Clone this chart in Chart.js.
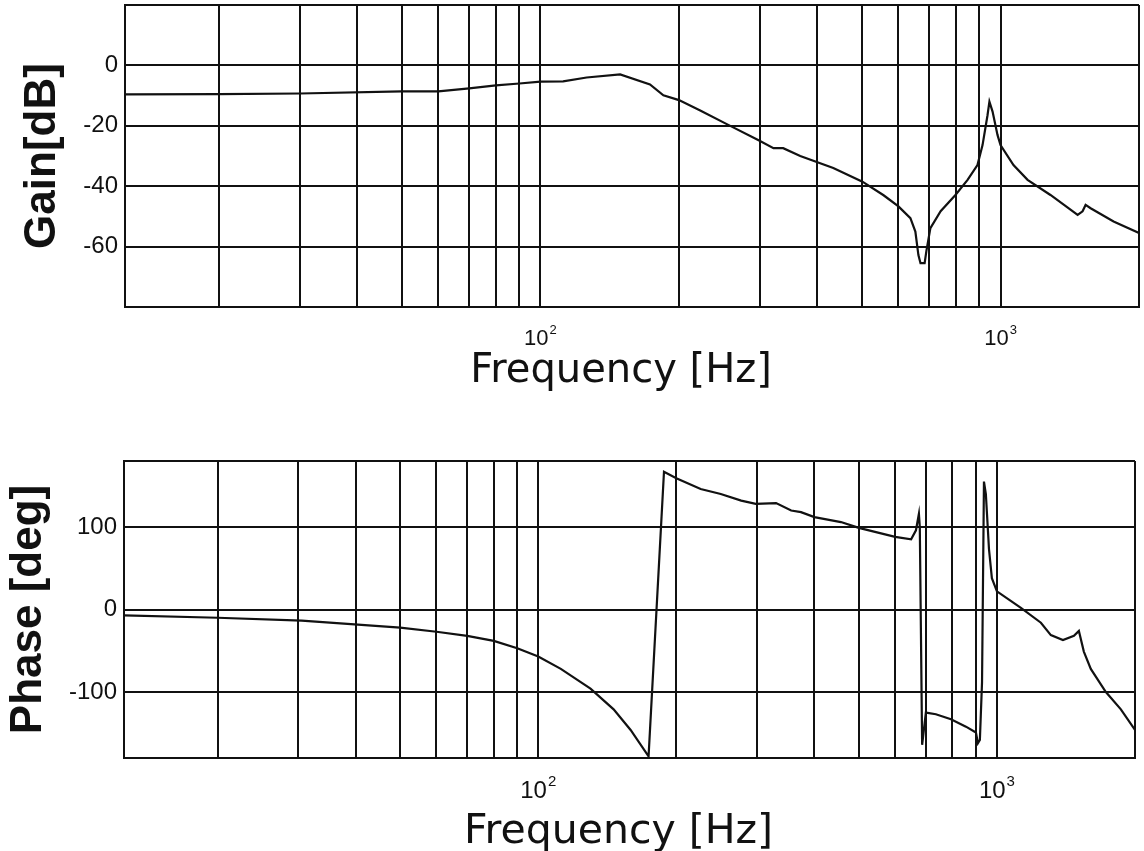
<!DOCTYPE html>
<html>
<head>
<meta charset="utf-8">
<script src="https://cdn.jsdelivr.net/npm/chart.js@4.4.1/dist/chart.umd.min.js"></script>
<style>
  html, body { margin: 0; padding: 0; background: #fff; }
  #gainBox { position: absolute; left: 0; top: 0; width: 1144px; height: 420px; }
  #phaseBox { position: absolute; left: 0; top: 420px; width: 1144px; height: 431px; }
</style>
</head>
<body>
<div id="gainBox"><canvas id="gainChart"></canvas></div>
<div id="phaseBox"><canvas id="phaseChart"></canvas></div>
<script>
// frequency response
const gainFreq = [12.5, 20, 30, 50, 60, 70, 80, 90, 100, 112,
  126, 149, 173, 185, 200, 223, 256, 298, 321, 337,
  367, 433, 501, 557, 600, 637, 653, 663, 670, 684,
  690, 704, 741, 798, 848, 891, 914, 937, 946, 961,
  985, 1000, 1067, 1145, 1284, 1471, 1508, 1531, 1570, 1761, 2000];
const gainDb = [-9.6, -9.5, -9.3, -8.6, -8.6, -7.6, -6.6, -6.0, -5.4, -5.3,
  -4.0, -3.0, -6.3, -9.9, -11.5, -15.0, -19.7, -24.8, -27.4, -27.4,
  -30.0, -34.0, -38.5, -43.0, -46.7, -50.6, -55.0, -62.8, -65.5, -65.5,
  -61.5, -53.9, -48.3, -42.9, -37.9, -33.0, -26.4, -16.5, -12.0, -15.3,
  -23.0, -26.4, -33.0, -37.9, -42.9, -49.5, -48.3, -46.2, -47.3, -51.7, -55.5];

const phaseFreq = [12.5, 20, 30.5, 50, 60, 70, 80, 90, 100, 112,
  130, 146, 159, 174, 188, 200, 226, 250, 277, 298,
  330, 356, 374, 400, 457, 500, 600, 650, 666, 676,
  679, 687, 700, 736, 794, 856, 900, 909, 918, 928,
  937, 946, 961, 975, 1000, 1128, 1247, 1311, 1393, 1472,
  1509, 1547, 1602, 1728, 1863, 2000];
const phaseDeg = [-7, -10, -13.5, -22, -27, -32, -38, -47, -57, -72,
  -96, -121, -146, -178, 167, 159, 146, 140, 132, 128,
  129, 120, 118, 112, 106, 99, 88, 85, 96, 116,
  100, -164, -125, -127, -133, -142, -149, -162, -158, -88,
  155, 140, 73, 38, 22, 2, -16, -31, -37, -32,
  -26, -51, -72, -100, -121, -146];

// axes
const freqMin = 12.5, freqMax = 2000;
const freqGridTicks = [12.5, 20, 30, 40, 50, 60, 70, 80, 90, 100,
  200, 300, 400, 500, 600, 700, 800, 900, 1000, 2000];
const decadeTicks = [100, 1000];
const decadeExponents = ['2', '3'];
const gainTicks = [-80, -60, -40, -20, 0, 20];
const gainTickLabels = ['', '-60', '-40', '-20', '0', ''];
const phaseTicks = [-180, -100, 0, 100, 180];
const phaseTickLabels = ['', '-100', '0', '100', ''];
const freqTitle = 'Frequency [Hz]';

const ink = '#111';
const sans = '"Liberation Sans", Arial, sans-serif';

// 10^n labels and the frequency title under the plot
const freqAxisText = {
  id: 'freqAxisText',
  afterDraw(chart, args, opts) {
    const { ctx, chartArea, scales } = chart;
    ctx.save();
    ctx.fillStyle = ink;
    ctx.textBaseline = 'alphabetic';
    ctx.textAlign = 'left';
    decadeTicks.forEach((v, i) => {
      const x = scales.x.getPixelForValue(v);
      ctx.font = opts.baseSize + 'px ' + sans;
      const bw = ctx.measureText('10').width;
      ctx.font = opts.expSize + 'px ' + sans;
      const ew = ctx.measureText(decadeExponents[i]).width;
      const x0 = x - (bw + 1 + ew) / 2;
      const y = chartArea.bottom + opts.labelGap;
      ctx.font = opts.baseSize + 'px ' + sans;
      ctx.fillText('10', x0, y);
      ctx.font = opts.expSize + 'px ' + sans;
      ctx.fillText(decadeExponents[i], x0 + bw + 1, y - opts.expRise);
    });
    ctx.font = opts.titleSize + 'px "DejaVu Sans", sans-serif';
    ctx.textAlign = 'center';
    ctx.fillText(freqTitle, (chartArea.left + chartArea.right) / 2 - 11, chartArea.bottom + opts.titleGap);
    ctx.restore();
  }
};

function bodeChart(id, freqs, values, yTicks, yLabels, yMin, yMax, yTitle, box) {
  const points = freqs.map((f, i) => ({ x: f, y: values[i] }));
  return new Chart(document.getElementById(id), {
    type: 'line',
    data: {
      datasets: [{
        data: points,
        borderColor: ink,
        borderWidth: 2.2,
        pointRadius: 0,
        tension: 0,
        fill: false
      }]
    },
    options: {
      responsive: true,
      maintainAspectRatio: false,
      animation: false,
      layout: { padding: { top: box.top, right: box.right, left: 0, bottom: 0 } },
      plugins: {
        legend: { display: false },
        tooltip: { enabled: false },
        freqAxisText: box.text
      },
      scales: {
        x: {
          type: 'logarithmic',
          min: freqMin,
          max: freqMax,
          afterBuildTicks: s => { s.ticks = freqGridTicks.map(v => ({ value: v })); },
          afterFit: s => { s.height = box.xHeight; s.paddingLeft = 0; s.paddingRight = 0; },
          ticks: { display: false },
          grid: { color: ink, lineWidth: 2, drawTicks: false },
          border: { color: ink, width: 2 }
        },
        y: {
          type: 'linear',
          min: yMin,
          max: yMax,
          afterBuildTicks: s => { s.ticks = yTicks.map(v => ({ value: v })); },
          afterFit: s => { s.width = box.yWidth; s.paddingTop = 0; s.paddingBottom = 0; },
          ticks: {
            color: ink,
            padding: 7,
            font: { family: sans, size: 24 },
            callback: (v, i) => yLabels[i]
          },
          grid: { color: ink, lineWidth: 2, drawTicks: false },
          border: { color: ink, width: 2 },
          title: {
            display: true,
            text: yTitle,
            color: ink,
            font: { family: sans, size: 44, weight: 'bold', lineHeight: 1 },
            padding: { top: box.titlePad, bottom: 0 }
          }
        }
      }
    },
    plugins: [freqAxisText]
  });
}

bodeChart('gainChart', gainFreq, gainDb, gainTicks, gainTickLabels, -80, 20, 'Gain[dB]', {
  top: 5, right: 5, xHeight: 113, yWidth: 125, titlePad: 21,
  text: { baseSize: 22, expSize: 13, expRise: 11, labelGap: 38, titleSize: 40, titleGap: 75 }
});

bodeChart('phaseChart', phaseFreq, phaseDeg, phaseTicks, phaseTickLabels, -180, 180, 'Phase [deg]', {
  top: 41, right: 9, xHeight: 93, yWidth: 124, titlePad: 7,
  text: { baseSize: 24, expSize: 15, expRise: 12, labelGap: 40, titleSize: 41, titleGap: 85 }
});
</script>
</body>
</html>
